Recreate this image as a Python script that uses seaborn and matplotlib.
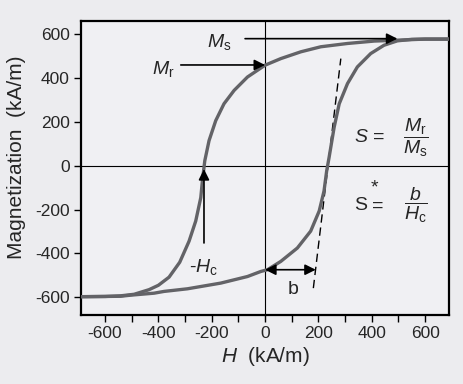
import numpy as np
import matplotlib
matplotlib.use("Agg")
import matplotlib.pyplot as plt
import seaborn as sns

# ==========================================
# data (kA/m)
# ==========================================
# descending branch (from +H saturation down to -H)
upper_H = [700, 600, 496, 409, 309, 209, 134, 59, 0, -66, -116, -154, -185,
           -210, -226, -235, -241, -260, -285, -320, -360, -400, -435, -491,
           -541, -600, -690]
upper_M = [578, 578, 573, 569, 558, 543, 520, 489, 459, 405, 344, 283, 206,
           115, 23, -69, -145, -252, -344, -440, -508, -545, -565, -586,
           -593, -596, -597]

# ascending branch (from -H saturation up to +H)
lower_H = [-690, -600, -541, -503, -416, -379, -291, -166, -66, -16, 9, 59,
           121, 171, 203, 221, 231, 240, 259, 278, 309, 346, 396, 446, 496,
           550, 600, 700]
lower_M = [-597, -596, -595, -590, -581, -573, -561, -535, -505, -482, -474,
           -436, -375, -298, -206, -115, -23, 38, 176, 283, 375, 451, 512,
           550, 570, 577, 578, 578]

# tangent at the coercive field (dashed line)
tangent_H = [181, 284]
tangent_M = [-558, 489]

Ms = 580
Mr = 460
Hc = -229
b_end = 190
M_b = -474

x_ticks = list(range(-600, 700, 100))
y_ticks = list(range(-600, 700, 200))

# ==========================================
# style
# ==========================================
sns.set_theme(style="white")
plt.rcParams["font.family"] = ["Liberation Sans", "DejaVu Sans"]
plt.rcParams["mathtext.fontset"] = "custom"
plt.rcParams["mathtext.rm"] = "Liberation Sans"
plt.rcParams["mathtext.it"] = "Liberation Sans:italic"
plt.rcParams["axes.unicode_minus"] = False

bg = "#ececef"
fig = plt.figure(figsize=(4.63, 3.84), dpi=100, facecolor=bg)
ax = fig.add_axes([0.175, 0.180, 0.795, 0.765])
ax.set_facecolor("#f0f0f3")

# crosshair
ax.axhline(0, color="black", lw=0.8, zorder=1)
ax.axvline(0, color="black", lw=0.8, zorder=1)

curve_color = "#636367"
sns.lineplot(x=upper_H, y=upper_M, sort=False, estimator=None, ax=ax,
             color=curve_color, lw=2.4, zorder=3)
sns.lineplot(x=lower_H, y=lower_M, sort=False, estimator=None, ax=ax,
             color=curve_color, lw=2.4, zorder=3)
sns.lineplot(x=tangent_H, y=tangent_M, sort=False, estimator=None, ax=ax,
             color="black", lw=1.0, zorder=2)
ax.lines[-1].set_linestyle((0, (6, 3.5)))
for ln in ax.lines[2:4]:
    ln.set_solid_joinstyle("round")
    ln.set_solid_capstyle("round")

ax.set_xlim(-690, 690)
ax.set_ylim(-680, 660)

# ==========================================
# annotations
# ==========================================
arrow = dict(arrowstyle="-|>", color="black", lw=1.2, mutation_scale=16,
             shrinkA=0, shrinkB=0)
ax.annotate("", xy=(496, Ms), xytext=(-75, Ms), arrowprops=arrow, zorder=4)
ax.annotate("", xy=(0, Mr), xytext=(-316, Mr), arrowprops=arrow, zorder=4)
ax.annotate("", xy=(Hc, -15), xytext=(Hc, -352), arrowprops=arrow, zorder=4)
ax.annotate("", xy=(b_end, M_b), xytext=(0, M_b),
            arrowprops=dict(arrowstyle="<|-|>", color="black", lw=1.2,
                            mutation_scale=16, shrinkA=0, shrinkB=0), zorder=4)

fs = 14
ax.text(-125, 565, r"$M_{\rm s}$", fontsize=fs, ha="right", va="center")
ax.text(-340, 440, r"$M_{\rm r}$", fontsize=fs, ha="right", va="center")
ax.text(-230, -460, r"-$H_{\rm c}$", fontsize=fs, ha="center", va="center")
ax.text(105, -565, "b", fontsize=fs, ha="center", va="center")

ax.text(335, 128, r"$S$ =", fontsize=fs, ha="left", va="center")
ax.text(565, 128, r"$\dfrac{M_{\rm r}}{M_{\rm s}}$", fontsize=fs,
        ha="center", va="center")
ax.text(335, -183, "S", fontsize=fs, ha="left", va="center")
ax.text(412, -100, "*", fontsize=fs, ha="center", va="center")
ax.text(400, -183, "=", fontsize=fs, ha="left", va="center")
ax.text(565, -183, r"$\dfrac{b}{H_{\rm c}}$", fontsize=fs,
        ha="center", va="center")

# ==========================================
# axes
# ==========================================
ax.set_xticks(x_ticks)
ax.set_xticklabels([str(t) if t % 200 == 0 else "" for t in x_ticks])
ax.set_yticks(y_ticks)
ax.set_yticklabels([str(t) for t in y_ticks])
ax.tick_params(axis="both", direction="out", length=5, width=1.0,
               labelsize=12.5, color="black", bottom=True, left=True, pad=3)
for s in ax.spines.values():
    s.set_color("black")
    s.set_linewidth(1.6)

ax.set_xlabel(r"$H$  (kA/m)", fontsize=15, labelpad=3)
ax.set_ylabel("Magnetization  (kA/m)", fontsize=15)
ax.yaxis.set_label_coords(-0.15, 0.535)

fig.savefig("out.png", dpi=100, facecolor=bg)
